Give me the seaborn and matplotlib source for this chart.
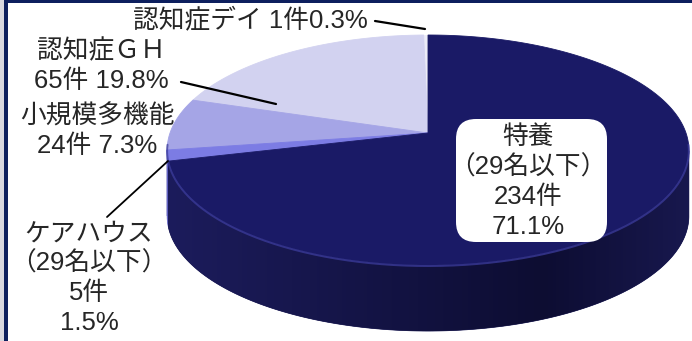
import numpy as np
import matplotlib
matplotlib.use("Agg")
import matplotlib.pyplot as plt
from matplotlib.patches import Polygon, Rectangle, FancyBboxPatch
from matplotlib.colors import to_rgb
import seaborn as sns

# --- data -------------------------------------------------------------
categories = ["認知症デイ", "認知症ＧＨ", "小規模多機能", "ケアハウス\n（29名以下）", "特養\n（29名以下）"]
counts = [1, 65, 24, 5, 234]
percents = [0.3, 19.8, 7.3, 1.5, 71.1]

sns.set_theme(style="white")
plt.rcParams["font.family"] = ["Liberation Sans", "Noto Sans CJK JP", "DejaVu Sans"]

top_colors = ["#ececf8", "#d2d2f0", "#a5a5e6", "#7c7ce4", "#1a1a66"]
side_colors = ["#c8c8e0", "#b0b0d8", "#8888c8", "#5c5cc0", "#141450"]

W, H = 692, 341
fig = plt.figure(figsize=(W / 100, H / 100), dpi=100)
ax = fig.add_axes([0, 0, 1, 1])
ax.set_xlim(0, W)
ax.set_ylim(H, 0)
ax.axis("off")

# perspective disc geometry (pixel space)
cx, apex_y = 428.0, 133.0
A, B, k = 258.0, 112.5, 0.148
depth = 66.0
ell_cy = apex_y + B * k / (1 - k * k)


def proj(theta):
    X, Z = np.cos(theta), np.sin(theta)
    w = 1 + k * Z
    return cx + A * X / w, apex_y - B * Z / w


total = float(sum(counts))
start = np.pi / 2
bounds = []
for c in counts:
    span = 2 * np.pi * c / total
    bounds.append((start, start + span))
    start += span

# side walls (front half only)
side_patches = []
for (t0, t1), sc in zip(bounds, side_colors):
    t = np.linspace(t0, t1, 400)
    x, y = proj(t)
    m = y >= ell_cy - 0.5
    if m.sum() < 2:
        continue
    xs, ys = x[m], y[m]
    pts = np.column_stack([np.r_[xs, xs[::-1]], np.r_[ys, ys[::-1] + depth]])
    poly = Polygon(pts, closed=True, facecolor=sc, edgecolor=sc, lw=0.5, zorder=1)
    ax.add_patch(poly)
    side_patches.append(poly)

# shading on the large side wall
big_side = side_patches[-1]
gx = np.linspace(0, 1, 300)
c_left = np.array(to_rgb("#1c1c5c"))
c_mid = np.array(to_rgb("#0d0d32"))
c_right = np.array(to_rgb("#18184e"))
grad = np.where(gx[:, None] < 0.72,
                c_left + (c_mid - c_left) * (gx[:, None] / 0.72),
                c_mid + (c_right - c_mid) * ((gx[:, None] - 0.72) / 0.28))
img = ax.imshow(grad[None, :, :], extent=(cx - 262, cx + 262, ell_cy + 120 + depth, ell_cy - 5),
                aspect="auto", zorder=2, interpolation="bilinear")
img.set_clip_path(big_side)

# top faces
for (t0, t1), tc in zip(bounds, top_colors):
    t = np.linspace(t0, t1, 400)
    x, y = proj(t)
    pts = np.column_stack([np.r_[cx, x], np.r_[apex_y, y]])
    ax.add_patch(Polygon(pts, closed=True, facecolor=tc, edgecolor=tc, lw=0.6, zorder=3))

# rim highlight along the front edge of the top face
t = np.linspace(np.pi * 1.03, np.pi * 1.97, 300)
x, y = proj(t)
ax.plot(x, y + 1, color="#3c3c9c", lw=1.4, alpha=0.75, zorder=4, solid_capstyle="round")

# labels
fs = 18.5
ls = 1.3
ax.text(250, 20, f"{categories[0]} {counts[0]}件{percents[0]}%", fontsize=fs,
        ha="center", va="center", zorder=6)
ax.plot([375, 425], [21, 29], color="black", lw=1.6, zorder=6)

ax.text(101, 66, f"{categories[1]}\n{counts[1]}件 {percents[1]}%", fontsize=fs,
        ha="center", va="center", linespacing=ls, zorder=6)
ax.plot([181, 276], [82, 104], color="black", lw=1.6, zorder=6)

ax.text(97, 131, f"{categories[2]}\n{counts[2]}件 {percents[2]}%", fontsize=fs,
        ha="center", va="center", linespacing=ls, zorder=6)

ax.text(89, 278, f"{categories[3]}\n{counts[3]}件\n{percents[3]}%", fontsize=fs,
        ha="center", va="center", linespacing=ls, zorder=6)
ax.plot([107, 168], [217, 161], color="black", lw=1.3, zorder=6)

ax.add_patch(FancyBboxPatch((456, 119), 151, 123, boxstyle="round,pad=0,rounding_size=20",
                            facecolor="white", edgecolor="none", zorder=5))
ax.text(528, 182, f"{categories[4]}\n{counts[4]}件\n{percents[4]}%", fontsize=fs,
        ha="center", va="center", linespacing=ls, zorder=6)

# frame
frame = "#0d1f5e"
fig.patches.append(Rectangle((0, 1 - 3 / H), 1, 3 / H, transform=fig.transFigure,
                             facecolor=frame, edgecolor="none", zorder=10))
fig.patches.append(Rectangle((0, 0), 4 / W, 1, transform=fig.transFigure,
                             facecolor="#d8d8e0", edgecolor="none", zorder=10))
fig.patches.append(Rectangle((4 / W, 0), 4 / W, 1, transform=fig.transFigure,
                             facecolor=frame, edgecolor="none", zorder=10))

fig.savefig("out.png", dpi=100)
